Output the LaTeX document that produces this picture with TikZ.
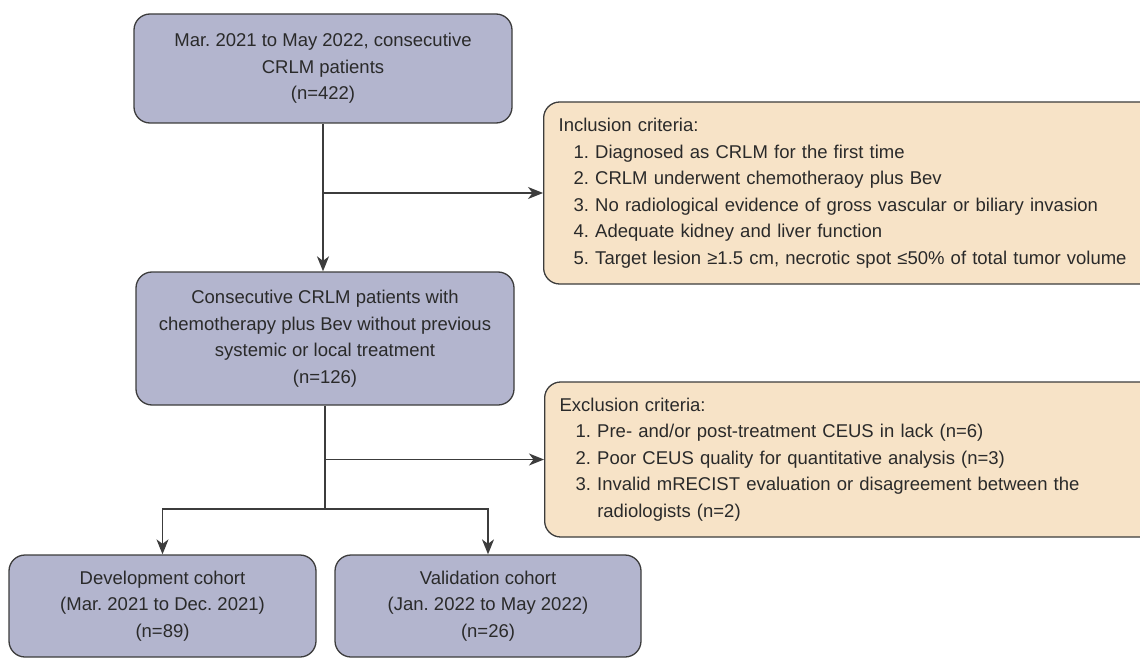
\documentclass[tikz,border=0pt]{standalone}
\usepackage{fontspec}
\setmainfont{Liberation Sans}
\usetikzlibrary{arrows.meta}
\definecolor{boxblue}{HTML}{B3B5CE}
\definecolor{boxtan}{HTML}{F7E3C7}
\definecolor{edge}{HTML}{3C3C3C}
\definecolor{txt}{HTML}{2A2A2A}
\frenchspacing
\begin{document}
\begin{tikzpicture}[x=1pt,y=-1pt,
  every node/.style={font=\fontsize{18.5}{26.5}\selectfont, text=txt},
  bluebox/.style={draw=edge, line width=1.3pt, fill=boxblue, rounded corners=16pt, align=center, inner sep=0pt},
  tanbox/.style={draw=edge, line width=1.3pt, fill=boxtan, rounded corners=16pt, align=left, inner xsep=15pt, inner ysep=0pt, anchor=west},
  arr/.style={draw=edge, line width=1.4pt, -{Stealth[length=15pt,width=12pt,inset=4.5pt]}},
  ln/.style={draw=edge, line width=1.4pt}]
\useasboundingbox (0,0) rectangle (1140,658);

\node[bluebox, minimum width=378pt, minimum height=109pt] (top) at (323,68.5)
  {Mar. 2021 to May 2022, consecutive\\CRLM patients\\(n=422)};
\node[bluebox, minimum width=378pt, minimum height=133pt] (mid) at (325,338.5)
  {Consecutive CRLM patients with\\chemotherapy plus Bev without previous\\systemic or local treatment\\(n=126)};
\node[tanbox, text width=587pt, minimum height=182pt] (incl) at (543,193)
  {Inclusion criteria:\\
   \hspace*{15pt}1. Diagnosed as CRLM for the first time\\
   \hspace*{15pt}2. CRLM underwent chemotheraoy plus Bev\\
   \hspace*{15pt}3. No radiological evidence of gross vascular or biliary invasion\\
   \hspace*{15pt}4. Adequate kidney and liver function\\
   \hspace*{15pt}5. Target lesion ≥1.5 cm, necrotic spot ≤50\% of total tumor volume};
\node[tanbox, text width=586pt, minimum height=155pt] (excl) at (544,459.5)
  {Exclusion criteria:\\
   \hspace*{16pt}1. Pre- and/or post-treatment CEUS in lack (n=6)\\
   \hspace*{16pt}2. Poor CEUS quality for quantitative analysis (n=3)\\
   \hspace*{16pt}3. Invalid mRECIST evaluation or disagreement between the\\
   \hspace*{16pt}\hphantom{3.}\ radiologists (n=2)};
\node[bluebox, minimum width=307pt, minimum height=102pt] (dev) at (162.5,606)
  {Development cohort\\(Mar. 2021 to Dec. 2021)\\(n=89)};
\node[bluebox, minimum width=306pt, minimum height=102pt] (val) at (488,606)
  {Validation cohort\\(Jan. 2022 to May 2022)\\(n=26)};

\coordinate (split) at (325,509);
\draw[arr] (top.south) -- (top.south |- mid.north);
\draw[arr] (top.south |- incl.west) -- (incl.west);
\draw[ln] (mid.south) -- (split);
\draw[arr] (mid.south |- excl.west) -- (excl.west);
\draw[arr] (split) -| (dev.north);
\draw[arr] (split) -| (val.north);
\end{tikzpicture}
\end{document}
